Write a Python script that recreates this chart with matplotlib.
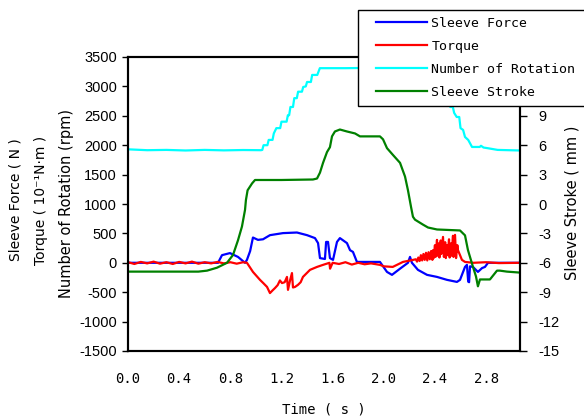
import matplotlib
matplotlib.use("Agg")
import matplotlib.pyplot as plt
from matplotlib.patches import Rectangle

# time (s) and values
t_force = [0.0, 0.5, 0.704, 0.735, 0.797, 0.860, 0.915, 0.930, 0.955, 0.977, 1.016, 1.056, 1.071,
           1.110, 1.212, 1.321, 1.400, 1.462, 1.486, 1.501, 1.540, 1.549, 1.564, 1.579, 1.603,
           1.634, 1.657, 1.712, 1.736, 1.759, 1.790, 1.970, 2.025, 2.064, 2.127, 2.189, 2.205,
           2.220, 2.267, 2.338, 2.416, 2.494, 2.572, 2.596, 2.635, 2.650, 2.660, 2.667, 2.674,
           2.697, 2.736, 2.768, 2.791, 2.815, 3.065]
force = [0, 0, 0, 130, 165, 100, 0, 50, 200, 430, 390, 400, 420,
         470, 505, 515, 470, 420, 335, 80, 65, 355, 355, 80, 50,
         355, 420, 335, 215, 185, 15, 15, -155, -205, -100, 0, 100,
         0, -120, -205, -240, -290, -325, -290, -70, -35, -320, -330, -60,
         -70, -155, -90, -70, 0, 0]

t_torque = [0.0, 0.05, 0.1, 0.15, 0.2, 0.25, 0.3, 0.35, 0.4, 0.45, 0.5, 0.55, 0.6, 0.65, 0.7,
            0.75, 0.8, 0.85, 0.9, 0.93, 0.977, 1.032, 1.060, 1.087, 1.110, 1.130, 1.149, 1.170,
            1.188, 1.204, 1.225, 1.243, 1.251, 1.267, 1.282, 1.290, 1.306, 1.329, 1.350, 1.368,
            1.423, 1.478, 1.525, 1.575, 1.58, 1.60, 1.65, 1.70, 1.75, 1.80, 1.85, 1.90, 1.97,
            2.00, 2.07, 2.15, 2.23, 2.25, 2.26, 2.27, 2.28, 2.29, 2.30, 2.31, 2.32, 2.33, 2.34,
            2.35, 2.36, 2.37, 2.38, 2.385, 2.39, 2.40, 2.405, 2.416, 2.42, 2.43, 2.435, 2.445, 2.45,
            2.463, 2.47, 2.48, 2.485, 2.494, 2.50, 2.51, 2.515, 2.525, 2.53, 2.541, 2.545, 2.557,
            2.565, 2.575, 2.58, 2.596, 2.611, 2.635, 2.70, 2.80, 2.90, 3.065]
torque = [10, -20, 15, -10, 20, -15, 10, -20, 15, -10, 20, -15, 10, -10, 15,
          -10, 10, -15, 10, 0, -155, -290, -350, -410, -515, -470, -430, -380,
          -300, -345, -330, -240, -460, -300, -175, -420, -410, -375, -330, -240,
          -120, -70, -35, 0, -100, 0, -20, 10, -30, 0, -25, -10, -35,
          -60, -70, 15, 50, 60, 20, 90, 30, 130, 40, 150, 50, 170, 40,
          180, 60, 200, 50, 215, 80, 300, 100, 390, 120, 330, 90, 380, 150,
          440, 100, 350, 80, 300, 130, 400, 90, 330, 120, 460, 100, 475,
          80, 300, 215, 130, 50, 15, 0, 10, -5, 0]

t_rpm = [0.0, 0.15, 0.3, 0.45, 0.6, 0.75, 0.9, 1.04, 1.05, 1.06, 1.09, 1.10, 1.13, 1.14, 1.16,
         1.19, 1.20, 1.24, 1.25, 1.26, 1.27, 1.29, 1.30, 1.32, 1.33, 1.36, 1.37, 1.39, 1.40,
         1.43, 1.44, 1.48, 1.50, 1.70, 1.90, 2.10, 2.33, 2.36, 2.40, 2.41, 2.45, 2.46, 2.49,
         2.50, 2.52, 2.54, 2.55, 2.57, 2.59, 2.60, 2.62, 2.635, 2.66, 2.69, 2.75, 2.76, 2.78,
         2.81, 2.89, 3.065]
rpm = [1930, 1915, 1920, 1910, 1920, 1912, 1918, 1915, 1920, 2000, 2000, 2090, 2090, 2200, 2290,
       2290, 2400, 2400, 2510, 2510, 2650, 2650, 2800, 2800, 2910, 2910, 2990, 3000, 3075,
       3075, 3195, 3195, 3310, 3310, 3315, 3310, 3310, 3200, 3200, 3050, 3050, 2900, 2900,
       2760, 2650, 2650, 2550, 2480, 2480, 2290, 2260, 2140, 2090, 1970, 1970, 1990, 1960,
       1950, 1920, 1910]

t_stroke = [0.0, 0.3, 0.55, 0.618, 0.696, 0.774, 0.821, 0.860, 0.891, 0.915, 0.922, 0.935, 0.970,
            0.993, 1.2, 1.446, 1.478, 1.501, 1.525, 1.556, 1.579, 1.595, 1.618, 1.657, 1.712,
            1.775, 1.814, 1.970, 1.994, 2.025, 2.072, 2.127, 2.166, 2.189, 2.213, 2.228, 2.244,
            2.306, 2.346, 2.416, 2.596, 2.635, 2.658, 2.697, 2.721, 2.736, 2.752, 2.830, 2.885,
            2.908, 2.963, 3.065]
stroke = [-6.9, -6.9, -6.9, -6.8, -6.5, -6.0, -5.2, -3.7, -2.3, -0.6, 0.4, 1.4, 2.1,
          2.45, 2.45, 2.5, 2.6, 3.2, 4.2, 5.3, 5.8, 6.9, 7.4, 7.6, 7.4,
          7.2, 6.9, 6.9, 6.6, 5.7, 5.0, 4.2, 2.8, 1.4, -0.3, -1.3, -1.6,
          -2.1, -2.4, -2.6, -2.7, -3.2, -4.7, -6.4, -7.4, -8.4, -7.7, -7.7, -6.8,
          -6.8, -6.9, -7.0]

left_ticks = [-1500, -1000, -500, 0, 500, 1000, 1500, 2000, 2500, 3000, 3500]
# 12 and 15 sit under the legend box in the original
right_ticks = [-15, -12, -9, -6, -3, 0, 3, 6, 9]
x_ticks = [0.0, 0.4, 0.8, 1.2, 1.6, 2.0, 2.4, 2.8]

mono = "DejaVu Sans Mono"
sans = "Liberation Sans"
label_font = "DejaVu Sans"

fig = plt.figure(figsize=(5.84, 4.19), dpi=100)
ax = fig.add_axes([128 / 584, 1 - 351 / 419, 392 / 584, 294 / 419])
ax2 = ax.twinx()

l1, = ax.plot(t_force, force, color="#0000ff", lw=1.6)
l2, = ax.plot(t_torque, torque, color="#ff0000", lw=1.6)
l3, = ax.plot(t_rpm, rpm, color="#00ffff", lw=1.6)
l4, = ax2.plot(t_stroke, stroke, color="#008000", lw=1.6)

ax.set_xlim(0, 3.065)
ax.set_ylim(-1500, 3500)
ax2.set_ylim(-15, 15)
ax.set_xticks(x_ticks)
ax.set_xticklabels([f"{v:.1f}" for v in x_ticks], fontfamily=mono, fontsize=10)
ax.set_yticks(left_ticks)
ax.set_yticklabels([str(v) for v in left_ticks], fontfamily=sans, fontsize=10.5)
ax2.set_yticks(right_ticks)
ax2.set_yticklabels([str(v) for v in right_ticks], fontfamily=sans, fontsize=10.5)

ax.tick_params(axis="x", length=0, pad=15)
ax.tick_params(axis="y", direction="out", length=4, width=1, pad=4)
ax2.tick_params(axis="y", direction="out", length=5, width=1, pad=8)

for a in (ax, ax2):
    for s in a.spines.values():
        s.set_linewidth(1.5)

# axis titles
fig.text(324 / 584, 1 - 409 / 419, "Time ( s )", fontfamily=mono, fontsize=10,
         ha="center", va="center")
fig.text(16 / 584, 1 - 200 / 419, "Sleeve Force ( N )", fontfamily=label_font, fontsize=10,
         rotation=90, ha="center", va="center")
fig.text(41 / 584, 1 - 200 / 419, "Torque ( 10\u207b\u00b9N\u00b7m )", fontfamily=label_font,
         fontsize=10, rotation=90, ha="center", va="center")
fig.text(67 / 584, 1 - 203 / 419, "Number of Rotation (rpm)", fontfamily=label_font,
         fontsize=10.5, rotation=90, ha="center", va="center")
fig.text(572 / 584, 1 - 203 / 419, "Sleeve Stroke ( mm )", fontfamily=label_font, fontsize=10.5,
         rotation=90, ha="center", va="center")

# legend box drawn on top of the plot, running off the right edge
fig.patches.append(Rectangle((358 / 584, 1 - 106 / 419), 240 / 584, 96 / 419,
                             transform=fig.transFigure, facecolor="white",
                             edgecolor="black", lw=1, zorder=3))
leg = fig.legend([l1, l2, l3, l4],
                 ["Sleeve Force", "Torque", "Number of Rotation", "Sleeve Stroke"],
                 loc="upper left", bbox_to_anchor=(376 / 584, 1 - 17 / 419),
                 frameon=False, borderpad=0, borderaxespad=0, handlelength=3.9,
                 handletextpad=0.3, labelspacing=0.75, prop={"family": mono, "size": 9.5})
leg.set_zorder(4)

fig.savefig("out.png", dpi=100)
